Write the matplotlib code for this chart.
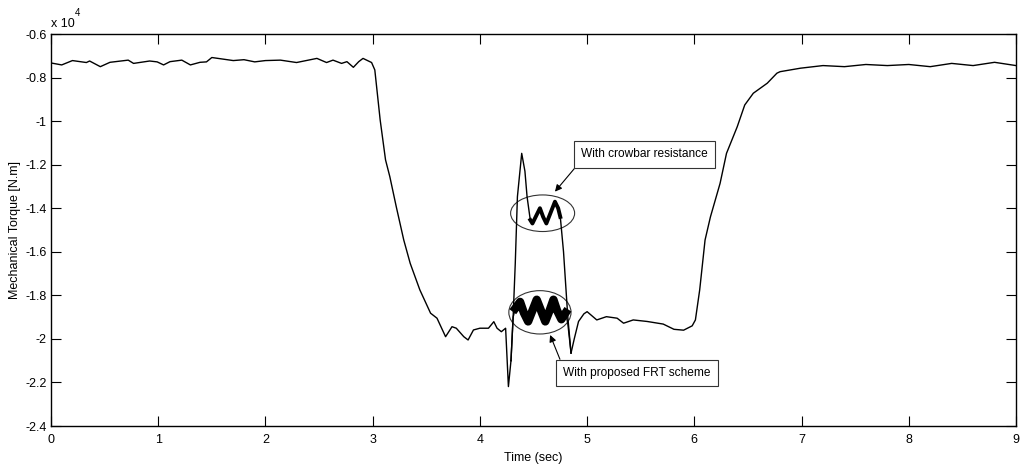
import matplotlib
matplotlib.use("Agg")
import matplotlib.pyplot as plt
from matplotlib.patches import Ellipse
from matplotlib import font_manager

names = {f.name for f in font_manager.fontManager.ttflist}
FONT = ['Liberation Sans Narrow', 'Liberation Sans', 'DejaVu Sans'] if 'Liberation Sans Narrow' in names else ['Liberation Sans', 'DejaVu Sans']
plt.rcParams['font.family'] = FONT

# ---- data (torque in units of 1e4 N.m) ----
t_pre = [0.00, 0.10, 0.20, 0.33, 0.36, 0.46, 0.55, 0.72, 0.77, 0.92, 0.99, 1.05, 1.11, 1.22, 1.30, 1.39,
         1.45, 1.50, 1.60, 1.70, 1.80, 1.90, 2.00, 2.14, 2.29, 2.48, 2.57, 2.63, 2.71, 2.76, 2.82, 2.87,
         2.91, 2.99, 3.02, 3.07, 3.12, 3.16, 3.22, 3.29, 3.35, 3.44, 3.54, 3.60, 3.68, 3.74, 3.78, 3.85,
         3.89, 3.94, 4.00, 4.08, 4.13, 4.16, 4.20, 4.24, 4.266, 4.29]
v_pre = [-0.733, -0.742, -0.722, -0.731, -0.724, -0.750, -0.730, -0.720, -0.735, -0.724, -0.728, -0.742,
         -0.727, -0.720, -0.742, -0.730, -0.728, -0.708, -0.715, -0.722, -0.718, -0.728, -0.722, -0.720,
         -0.731, -0.712, -0.731, -0.720, -0.735, -0.727, -0.753, -0.727, -0.712, -0.731, -0.765, -0.995,
         -1.178, -1.255, -1.393, -1.546, -1.653, -1.775, -1.882, -1.905, -1.990, -1.944, -1.951, -1.990,
         -2.005, -1.959, -1.951, -1.951, -1.921, -1.951, -1.967, -1.951, -2.219, -2.100]

t_crowbar = [4.29, 4.31, 4.33, 4.35, 4.39, 4.42, 4.44, 4.47, 4.49, 4.52, 4.56, 4.59, 4.62, 4.66, 4.70,
             4.73, 4.75, 4.78, 4.82, 4.85]
v_crowbar = [-2.100, -1.900, -1.653, -1.347, -1.148, -1.230, -1.347, -1.454, -1.470, -1.440, -1.400,
             -1.440, -1.470, -1.420, -1.370, -1.400, -1.440, -1.600, -1.900, -2.065]

t_frt = [4.29, 4.31, 4.33, 4.375, 4.41, 4.45, 4.49, 4.53, 4.57, 4.61, 4.65, 4.686, 4.72, 4.76, 4.80,
         4.82, 4.85]
v_frt = [-2.100, -1.900, -1.860, -1.830, -1.880, -1.920, -1.870, -1.820, -1.870, -1.920, -1.870,
         -1.820, -1.870, -1.910, -1.880, -1.930, -2.065]

t_post = [4.85, 4.88, 4.92, 4.97, 5.00, 5.09, 5.18, 5.28, 5.34, 5.43, 5.56, 5.71, 5.81, 5.90, 5.98,
          6.01, 6.05, 6.10, 6.15, 6.24, 6.30, 6.40, 6.47, 6.55, 6.68, 6.77, 6.80, 6.99, 7.20, 7.40,
          7.60, 7.80, 8.00, 8.20, 8.40, 8.60, 8.80, 9.00]
v_post = [-2.065, -2.000, -1.920, -1.885, -1.875, -1.913, -1.898, -1.905, -1.928, -1.913, -1.920,
          -1.932, -1.956, -1.960, -1.940, -1.913, -1.775, -1.546, -1.440, -1.286, -1.148, -1.026,
          -0.926, -0.872, -0.826, -0.780, -0.773, -0.757, -0.745, -0.750, -0.740, -0.745, -0.740,
          -0.750, -0.735, -0.745, -0.730, -0.745]

x_ticks = [0, 1, 2, 3, 4, 5, 6, 7, 8, 9]
y_ticks = [-2.4, -2.2, -2.0, -1.8, -1.6, -1.4, -1.2, -1.0, -0.8, -0.6]

fig = plt.figure(figsize=(10.29, 4.72), dpi=100)
ax = fig.add_axes([51/1029, 1-426/472, (1016-51)/1029, (426-34)/472])

lc = 'black'
ax.plot(t_pre, v_pre, color=lc, lw=1.0)
ax.plot(t_crowbar, v_crowbar, color=lc, lw=1.0)
ax.plot(t_crowbar[7:17], v_crowbar[7:17], color=lc, lw=2.8)
ax.plot(t_frt, v_frt, color=lc, lw=1.0)
ax.plot(t_frt[2:15], v_frt[2:15], color=lc, lw=6.0)
ax.plot(t_post, v_post, color=lc, lw=1.0)

ax.add_patch(Ellipse((4.585, -1.423), 0.597, 0.168, fill=False, ec='#333333', lw=0.8))
ax.add_patch(Ellipse((4.56, -1.878), 0.58, 0.199, fill=False, ec='#333333', lw=0.8))

bbox = dict(boxstyle='square,pad=0.6', fc='white', ec='#333333', lw=0.8)
ax.annotate('With crowbar resistance', xy=(4.70, -1.324), xytext=(5.536, -1.153),
            ha='center', va='center', fontsize=8.6, bbox=bbox,
            arrowprops=dict(arrowstyle='-|>', color='black', lw=0.8, mutation_scale=10,
                            shrinkA=0, shrinkB=0, relpos=(0.0, 0.0)))
ax.annotate('With proposed FRT scheme', xy=(4.655, -1.982), xytext=(5.463, -2.156),
            ha='center', va='center', fontsize=8.6, bbox=bbox,
            arrowprops=dict(arrowstyle='-|>', color='black', lw=0.8, mutation_scale=10,
                            shrinkA=0, shrinkB=0, relpos=(0.0, 1.0)))

ax.set_xlim(0, 9)
ax.set_ylim(-2.4, -0.6)
ax.set_xticks(x_ticks)
ax.set_yticks(y_ticks)
ax.set_xticklabels([f'{v:g}' for v in x_ticks])
ax.set_yticklabels([f'{v:g}' for v in y_ticks])
ax.tick_params(direction='in', length=7, width=0.8, top=True, right=True, labelsize=9)
ax.tick_params(axis='x', pad=6)
ax.tick_params(axis='y', pad=3)
for s in ax.spines.values():
    s.set_linewidth(1.0)

ax.set_xlabel('Time (sec)', fontsize=9, va='center')
ax.xaxis.set_label_coords(0.5, -(458-426)/392)
ax.set_ylabel('Mechanical Torque [N.m]', fontsize=9, va='center')
ax.yaxis.set_label_coords(-(51-15)/965, 0.5)
ax.text(0.0, 1 + (34-27)/392, 'x 10', transform=ax.transAxes, ha='left', va='baseline', fontsize=9)
ax.text(0.025, 1 + (34-16)/392, '4', transform=ax.transAxes, ha='left', va='baseline', fontsize=7)

fig.savefig('out.png', dpi=100)
